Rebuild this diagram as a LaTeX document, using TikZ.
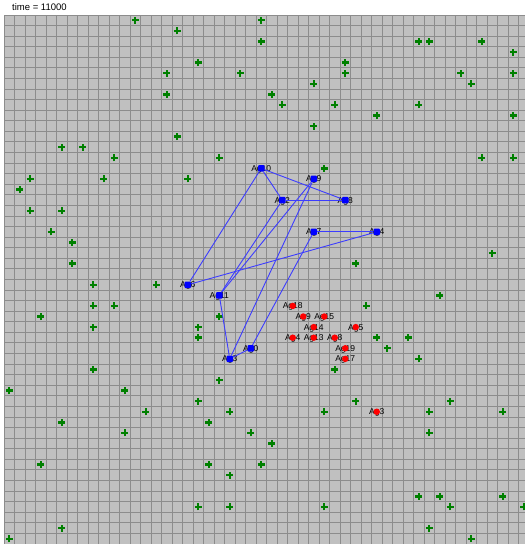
\documentclass[tikz,border=0pt]{standalone}
\usepackage{fontspec}
\setmainfont{Liberation Sans}
\usepackage{xcolor}
\usepackage{tikz}
\definecolor{fieldgray}{RGB}{192,192,192}
\definecolor{gridgray}{RGB}{140,140,140}
\definecolor{plantgreen}{RGB}{0,128,0}
\definecolor{agentblue}{RGB}{0,0,255}
\definecolor{linkblue}{RGB}{60,60,255}
\definecolor{agentred}{RGB}{255,0,0}

\begin{document}
\begin{tikzpicture}[x=10.5pt,y=-10.58pt,
        gridline/.style={draw=gridgray,line width=1pt},
        plant/.style={draw=plantgreen,line width=2.4pt},
        blueagent/.style={fill=agentblue,rectangle,rounded corners=1pt,minimum size=6.5pt,inner sep=0pt},
        redagent/.style={fill=agentred,circle,minimum size=6.5pt,inner sep=0pt},
        aglabel/.style={font=\fontsize{8.5}{9}\selectfont,inner sep=0pt,anchor=base,yshift=-3pt},
        link/.style={draw=linkblue,line width=0.9pt}]
        \useasboundingbox (-0.381,-1.4178) rectangle (49.619,50);
        \fill[white] (-0.381,-1.4178) rectangle (49.619,50);
        \node[anchor=base west,inner sep=0pt,font=\fontsize{9.5}{11}\selectfont] (clock) at (0.76,-0.38) {time = 11000};
        % field
        \fill[fieldgray] (0,0) rectangle (49.619,50);
        \foreach \i in {0,...,49} \draw[gridline] (\i,0) -- (\i,50);
        \foreach \j in {0,...,50} \draw[gridline] (0,\j) -- (49.619,\j);
        % food
        \foreach \c/\r in {12/0,24/0,16/1,24/2,39/2,40/2,45/2,48/3,18/4,32/4,
                15/5,22/5,32/5,43/5,48/5,29/6,44/6,15/7,25/7,26/8,31/8,39/8,
                35/9,48/9,29/10,16/11,5/12,7/12,10/13,20/13,45/13,48/13,30/14,
                2/15,9/15,17/15,1/16,2/18,5/18,4/20,6/21,46/22,6/23,33/23,
                8/25,14/25,41/26,8/27,10/27,34/27,3/28,20/28,8/29,18/29,
                18/30,35/30,38/30,36/31,39/32,8/33,31/33,20/34,0/35,11/35,
                18/36,33/36,42/36,13/37,21/37,30/37,40/37,47/37,5/38,19/38,
                11/39,23/39,40/39,25/40,3/42,19/42,24/42,21/43,39/45,41/45,47/45,
                18/46,21/46,30/46,42/46,49/46,5/48,40/48,0/49,44/49}
            \draw[plant] (\c+.5,\r+.5) +(-3.5pt,0) -- +(3.5pt,0) +(0,-3.5pt) -- +(0,3.5pt);
        % blue team
        \foreach \n/\c/\r in {10/24/14,9/29/15,2/26/17,8/32/17,7/29/20,4/35/20,
                6/17/25,11/20/26,0/23/31,3/21/32} {
            \node[aglabel] (lb\n) at (\c+.5,\r+.5) {Ag\n};
            \node[blueagent] (b\n) at (\c+.5,\r+.5) {};
        }
        % red team
        \foreach \n/\c/\r in {18/27/27,9/28/28,15/30/28,14/29/29,5/33/29,4/27/30,
                13/29/30,8/31/30,19/32/31,17/32/32,3/35/37} {
            \node[aglabel] (lr\n) at (\c+.5,\r+.5) {Ag\n};
            \node[redagent] (r\n) at (\c+.5,\r+.5) {};
        }
        \foreach \s/\t in {10/6,10/2,10/8,2/8,9/11,2/11,9/3,7/0,7/4,4/6,11/3,3/0}
            \draw[link] (b\s) -- (b\t);
    \end{tikzpicture}
\end{document}
